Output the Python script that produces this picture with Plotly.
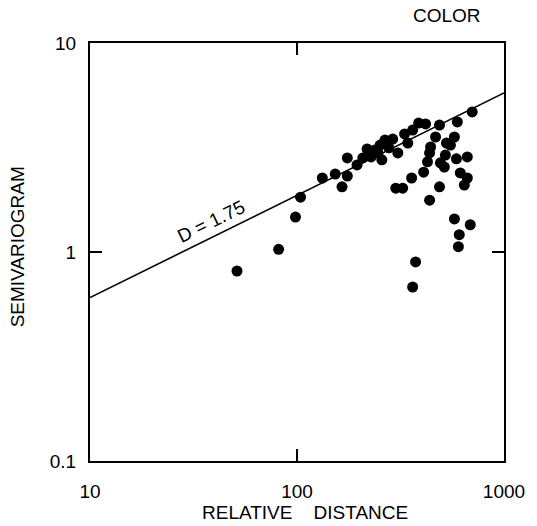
import numpy as np
import plotly.graph_objects as go

# Data
distance = [51.3, 81.5, 98.3, 104, 132.5, 153, 175, 165, 175, 195,
            208, 218, 228, 238, 246, 252, 257, 266, 278, 290,
            307, 300, 324, 331, 343, 362, 358, 387, 418, 409,
            427, 437, 442, 467, 488, 488, 437, 493, 515, 521,
            527, 551, 576, 589, 595, 665, 615, 665, 643, 576,
            687, 608, 602, 374, 362, 702]
semivariogram = [0.811, 1.03, 1.47, 1.83, 2.26, 2.36, 2.31, 2.05, 2.82, 2.61,
                 2.82, 3.11, 2.85, 3.08, 2.98, 3.25, 2.76, 3.43, 3.15, 3.47,
                 2.98, 2.02, 2.02, 3.67, 3.32, 3.83, 2.26, 4.14, 4.10, 2.41,
                 2.70, 2.98, 3.18, 3.55, 4.05, 2.05, 1.77, 2.67, 2.55, 2.91,
                 3.32, 3.25, 3.55, 2.79, 4.19, 2.85, 2.39, 2.26, 2.09, 1.44,
                 1.35, 1.21, 1.06, 0.896, 0.68, 4.68]

fit_x = [10, 1000]
fit_y = [0.605, 5.77]
fit_label = "D = 1.75"
fit_label_pos = (38.5, 1.40)

x_ticks = [10, 100, 1000]
x_ticktext = ["10", "100", "1000"]
y_ticks = [0.1, 1, 10]
y_ticktext = ["0.1", "1", "10"]

FONT = "Liberation Sans, Arial, Helvetica, sans-serif"
FS = 19

fig = go.Figure()
fig.add_trace(go.Scatter(x=fit_x, y=fit_y, mode="lines",
                         line=dict(color="black", width=1.6),
                         showlegend=False, hoverinfo="skip"))
fig.add_trace(go.Scatter(x=distance, y=semivariogram, mode="markers",
                         marker=dict(color="black", size=11),
                         showlegend=False))

axis_common = dict(type="log", showline=True, linecolor="black", linewidth=2,
                   mirror="ticks", ticks="inside", ticklen=12, tickwidth=1.5,
                   tickcolor="black", showgrid=False, zeroline=False,
                   tickfont=dict(family=FONT, size=FS, color="black"))

fig.update_xaxes(range=[1, 3], tickvals=x_ticks, ticktext=x_ticktext,
                 ticklabelstandoff=12, **axis_common)
fig.update_yaxes(range=[-1, 1], tickvals=y_ticks, ticktext=y_ticktext,
                 ticklabelstandoff=8, **axis_common)

fig.add_annotation(x=np.log10(fit_label_pos[0]), y=np.log10(fit_label_pos[1]),
                   xref="x", yref="y", text=fit_label, showarrow=False,
                   xanchor="center", yanchor="middle",
                   textangle=-26, font=dict(family=FONT, size=FS, color="black"))
fig.add_annotation(x=0.863, y=1.065, xref="paper", yref="paper", text="COLOR",
                   xanchor="center", yanchor="middle",
                   showarrow=False, font=dict(family=FONT, size=FS, color="black"))
fig.add_annotation(x=0.52, y=-0.123, xref="paper", yref="paper",
                   text="RELATIVE&nbsp;&nbsp;&nbsp;&nbsp;DISTANCE",
                   xanchor="center", yanchor="middle",
                   showarrow=False, font=dict(family=FONT, size=FS, color="black"))
fig.add_annotation(x=-0.173, y=0.512, xref="paper", yref="paper",
                   text="SEMIVARIOGRAM", textangle=-90, showarrow=False,
                   xanchor="center", yanchor="middle",
                   font=dict(family=FONT, size=FS, color="black"))

fig.update_layout(width=537, height=526,
                  margin=dict(l=90, r=30, t=43, b=65),
                  paper_bgcolor="white", plot_bgcolor="white")

fig.write_html("out.html")
